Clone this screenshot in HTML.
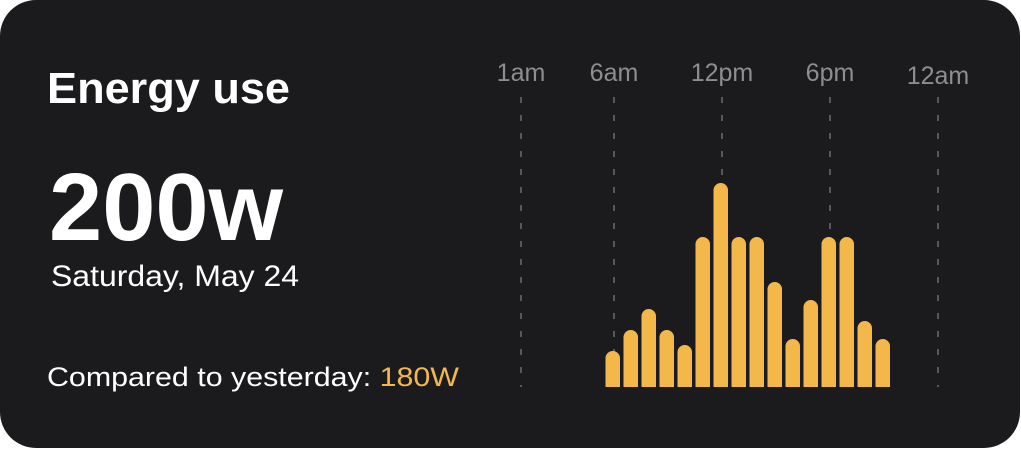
<!DOCTYPE html>
<html><head><meta charset="utf-8"><style>
html,body{margin:0;padding:0;background:#fff;}
svg{display:block;font-family:"Liberation Sans",sans-serif;}
</style></head><body>
<svg width="1021" height="449" viewBox="0 0 1021 449">
<rect x="0" y="0" width="1020" height="448" rx="36" fill="#1b1b1d"/>
<text x="47" y="103" font-size="44" font-weight="bold" fill="#fff" textLength="243" lengthAdjust="spacingAndGlyphs">Energy use</text>
<text x="49" y="240" font-size="96" font-weight="bold" fill="#fff" textLength="234" lengthAdjust="spacingAndGlyphs">200w</text>
<text x="51" y="286" font-size="30" fill="#fff" textLength="248" lengthAdjust="spacingAndGlyphs">Saturday, May 24</text>
<text x="47" y="386" font-size="27" fill="#fff" textLength="412" lengthAdjust="spacingAndGlyphs">Compared to yesterday: <tspan fill="#f4b84a">180W</tspan></text>
<g id="chart"></g>
</svg>
<script>
const tickLabels = ["1am","6am","12pm","6pm","12am"];
const tickX = [521, 614, 722, 830, 938];
const hourValues = [36,57,78,57,42,150,204,150,150,105,48,87,150,150,66,48];
const NS = "http://www.w3.org/2000/svg";
const g = document.getElementById("chart");
const baseY = 387, barW = 14.5, step = 18, x0 = 605.5;
function yScale(v){ return baseY - v; }
function xScale(i){ return x0 + i*step; }
tickLabels.forEach((t,i)=>{
  const ln = document.createElementNS(NS,"line");
  ln.setAttribute("x1",tickX[i]); ln.setAttribute("x2",tickX[i]);
  ln.setAttribute("y1",97); ln.setAttribute("y2",387);
  ln.setAttribute("stroke","#6d6d70"); ln.setAttribute("stroke-width","1.5");
  ln.setAttribute("stroke-dasharray","6 12");
  
  
  g.appendChild(ln);
  const tx = document.createElementNS(NS,"text");
  tx.setAttribute("x",tickX[i]); tx.setAttribute("y", i==4?84:81);
  tx.setAttribute("text-anchor","middle"); tx.setAttribute("font-size","25");
  tx.setAttribute("fill","#8e8e90");
  tx.textContent = t;
  
  
  g.appendChild(tx);
});
hourValues.forEach((v,i)=>{
  const r = document.createElementNS(NS,"path");
  const x = xScale(i), y = yScale(v), rr = barW/2;
  r.setAttribute("d",`M${x},${baseY} L${x},${y+rr} A${rr},${rr} 0 0 1 ${x+barW},${y+rr} L${x+barW},${baseY} Z`);
  r.setAttribute("fill","#f4b84a");
  
  
  g.appendChild(r);
});
</script>
</body></html>
